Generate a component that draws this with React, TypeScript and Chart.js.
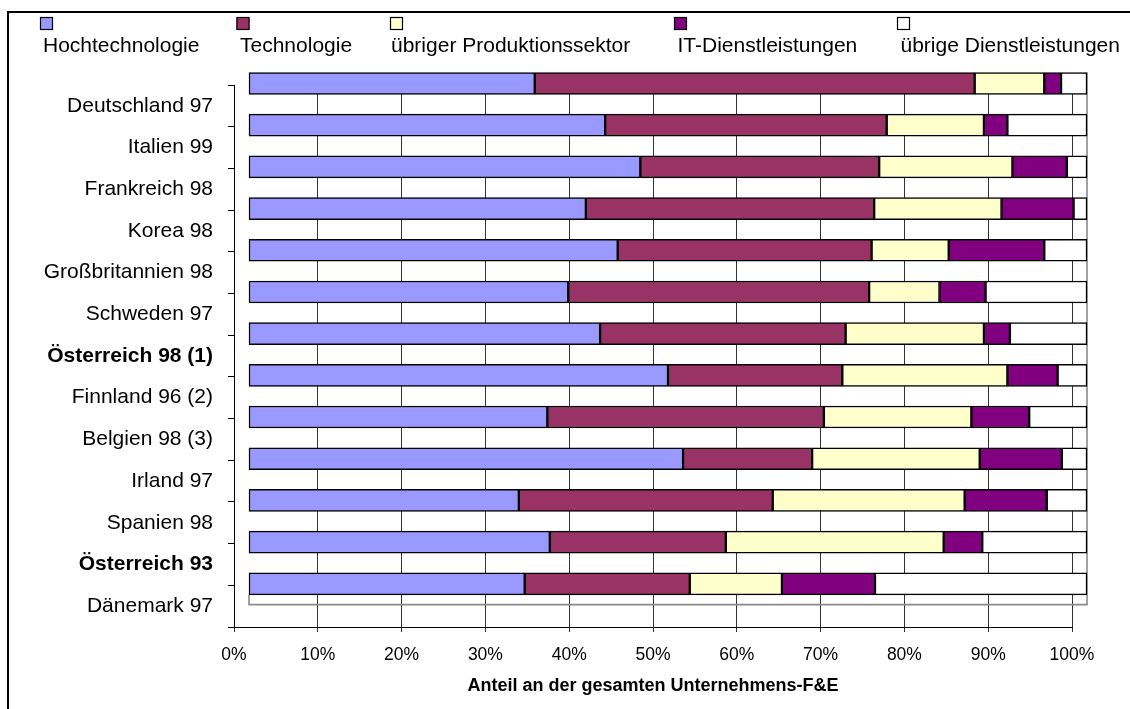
import React, { useEffect, useRef } from 'react';
import { Chart, registerables } from 'chart.js';

Chart.register(...registerables);

const categories = [
  'Deutschland 97',
  'Italien 99',
  'Frankreich 98',
  'Korea 98',
  'Großbritannien 98',
  'Schweden 97',
  'Österreich 98 (1)',
  'Finnland 96 (2)',
  'Belgien 98 (3)',
  'Irland 97',
  'Spanien 98',
  'Österreich 93',
  'Dänemark 97',
];
const boldCategories = ['Österreich 98 (1)', 'Österreich 93'];

const seriesNames = [
  'Hochtechnologie',
  'Technologie',
  'übriger Produktionssektor',
  'IT-Dienstleistungen',
  'übrige Dienstleistungen',
];
const seriesColors = ['#9999FF', '#993366', '#FFFFCC', '#800080', '#FFFFFF'];

const hochtechnologie = [34.1, 42.5, 46.7, 40.2, 44.0, 38.1, 41.9, 50.0, 35.6, 51.8, 32.2, 35.9, 32.9];
const technologie = [52.5, 33.6, 28.5, 34.4, 30.3, 35.9, 29.3, 20.8, 33.0, 15.4, 30.3, 21.0, 19.7];
const uebrigerProduktion = [8.3, 11.6, 15.9, 15.2, 9.2, 8.4, 16.5, 19.7, 17.6, 20.0, 22.9, 26.0, 11.0];
const itDienstleistungen = [2.0, 2.8, 6.5, 8.6, 11.4, 5.5, 3.1, 6.0, 6.9, 9.8, 9.8, 4.6, 11.1];
const uebrigeDienstleistungen = [3.1, 9.5, 2.4, 1.6, 5.1, 12.1, 9.2, 3.5, 6.9, 3.0, 4.8, 12.5, 25.3];

const xTickValues = [0, 10, 20, 30, 40, 50, 60, 70, 80, 90, 100];
const xTitle = 'Anteil an der gesamten Unternehmens-F&E';

const FONT = "'Liberation Sans', Arial, sans-serif";

const legendPlugin = {
  id: 'customLegend',
  afterDraw(chart: any) {
    const ctx = chart.ctx;
    const boxX = [40, 236.5, 390, 674, 897];
    const textX = [43, 240, 391, 677.5, 900.5];
    ctx.save();
    chart.data.datasets.forEach((ds: any, i: number) => {
      ctx.fillStyle = ds.backgroundColor;
      ctx.fillRect(boxX[i], 17, 13, 13);
      ctx.strokeStyle = '#000';
      ctx.lineWidth = 1.2;
      ctx.strokeRect(boxX[i] + 0.5, 17.5, 12, 12);
      ctx.fillStyle = '#000';
      ctx.font = `21px ${FONT}`;
      ctx.textBaseline = 'alphabetic';
      ctx.textAlign = 'left';
      ctx.fillText(ds.label, textX[i], 52);
    });
    ctx.restore();
  },
};

const wallPlugin = {
  id: 'wall',
  beforeDatasetsDraw(chart: any) {
    const ctx = chart.ctx;
    const xb = chart.scales.x2;
    const yb = chart.scales.yb;
    const y = chart.scales.y;
    const dy = y.getPixelForValue(0.5) - yb.getPixelForValue(0);
    const bottom = chart.chartArea.bottom - dy;
    const left = xb.getPixelForValue(0);
    const right = xb.getPixelForValue(100);
    const top = yb.getPixelForValue(0) - 11;
    const lastBottom = yb.getPixelForValue(categories.length - 1) + 11;
    ctx.save();
    ctx.strokeStyle = '#8a8a8a';
    ctx.lineWidth = 1.6;
    ctx.beginPath();
    ctx.moveTo(left, lastBottom);
    ctx.lineTo(left, bottom);
    ctx.lineTo(right, bottom);
    ctx.lineTo(right, top);
    ctx.stroke();
    ctx.restore();
  },
};

export default function App() {
  const ref = useRef<HTMLCanvasElement | null>(null);

  useEffect(() => {
    if (!ref.current) return;
    const seriesValues = [
      hochtechnologie,
      technologie,
      uebrigerProduktion,
      itDienstleistungen,
      uebrigeDienstleistungen,
    ];
    const n = categories.length;
    const chart = new Chart(ref.current, {
      type: 'bar',
      data: {
        datasets: seriesValues.map((vals, s) => ({
          label: seriesNames[s],
          data: vals.map((v, i) => ({ x: v, y: i })),
          backgroundColor: seriesColors[s],
          borderColor: '#000',
          borderWidth: 1.5,
          borderSkipped: false,
          barThickness: 22,
          xAxisID: 'x2',
          yAxisID: 'yb',
          clip: false,
        })),
      },
      options: {
        indexAxis: 'y',
        animation: false,
        responsive: false,
        events: [],
        layout: { padding: { left: 0, top: 85, right: 58, bottom: 0 } },
        plugins: {
          legend: { display: false },
          tooltip: { enabled: false },
        },
        scales: {
          x: {
            type: 'linear',
            axis: 'x',
            position: 'bottom',
            offset: false,
            min: 0,
            max: 100,
            afterBuildTicks: (s: any) => {
              s.ticks = xTickValues.map((v) => ({ value: v }));
            },
            afterFit: (s: any) => {
              s.height = 82;
            },
            ticks: {
              autoSkip: false,
              maxRotation: 0,
              padding: 13,
              color: '#000',
              font: { family: FONT, size: 17.5 },
              callback: (v: any) => `${v}%`,
            },
            grid: { color: '#333', lineWidth: 1, tickLength: 5, drawTicks: true, offset: false },
            border: { display: true, color: '#000', width: 1 },
            title: {
              display: true,
              text: xTitle,
              color: '#000',
              font: { family: FONT, size: 18, weight: 'bold' },
              padding: { top: 0, bottom: 12 },
            },
          },
          y: {
            type: 'linear',
            axis: 'y',
            position: 'left',
            offset: false,
            reverse: true,
            min: 0,
            max: n,
            afterBuildTicks: (s: any) => {
              const t: any[] = [];
              for (let k = 0; k <= n; k++) {
                t.push({ value: k });
                if (k < n) t.push({ value: k + 0.5 });
              }
              s.ticks = t;
            },
            afterFit: (s: any) => {
              s.width = 234;
            },
            ticks: {
              autoSkip: false,
              padding: 15,
              color: '#000',
              font: (c: any) => {
                const v = c.tick ? c.tick.value : 0;
                const name = categories[Math.floor(v)] || '';
                return {
                  family: FONT,
                  size: 21,
                  weight: boldCategories.includes(name) && !Number.isInteger(v) ? 'bold' : 'normal',
                };
              },
              callback: (v: any) => (Number.isInteger(v) ? '' : categories[Math.floor(v)]),
            },
            grid: {
              offset: false,
              drawOnChartArea: false,
              drawTicks: true,
              tickLength: 6,
              tickColor: (c: any) =>
                c.tick && Number.isInteger(c.tick.value) ? '#000' : 'rgba(0,0,0,0)',
            },
            border: { display: true, color: '#000', width: 1 },
          },
          x2: {
            type: 'linear',
            axis: 'x',
            position: 'bottom',
            display: false,
            offset: false,
            stacked: true,
            min: -1.79,
            max: 98.21,
          },
          yb: {
            type: 'linear',
            axis: 'y',
            position: 'left',
            display: false,
            offset: false,
            grid: { offset: false },
            stacked: true,
            reverse: true,
            min: 0.036,
            max: n + 0.036,
          },
        },
      } as any,
      plugins: [wallPlugin, legendPlugin],
    });
    return () => chart.destroy();
  }, []);

  return (
    <div
      style={{
        position: 'fixed',
        left: 0,
        top: 0,
        width: 1130,
        height: 709,
        overflow: 'hidden',
        background: '#fff',
      }}
    >
      <div
        style={{
          position: 'absolute',
          left: 7,
          top: 11,
          width: 1300,
          height: 900,
          borderLeft: '2px solid #000',
          borderTop: '2px solid #000',
        }}
      />
      <canvas
        ref={ref}
        width={1130}
        height={709}
        style={{ position: 'absolute', left: 0, top: 0, width: 1130, height: 709 }}
      />
    </div>
  );
}
